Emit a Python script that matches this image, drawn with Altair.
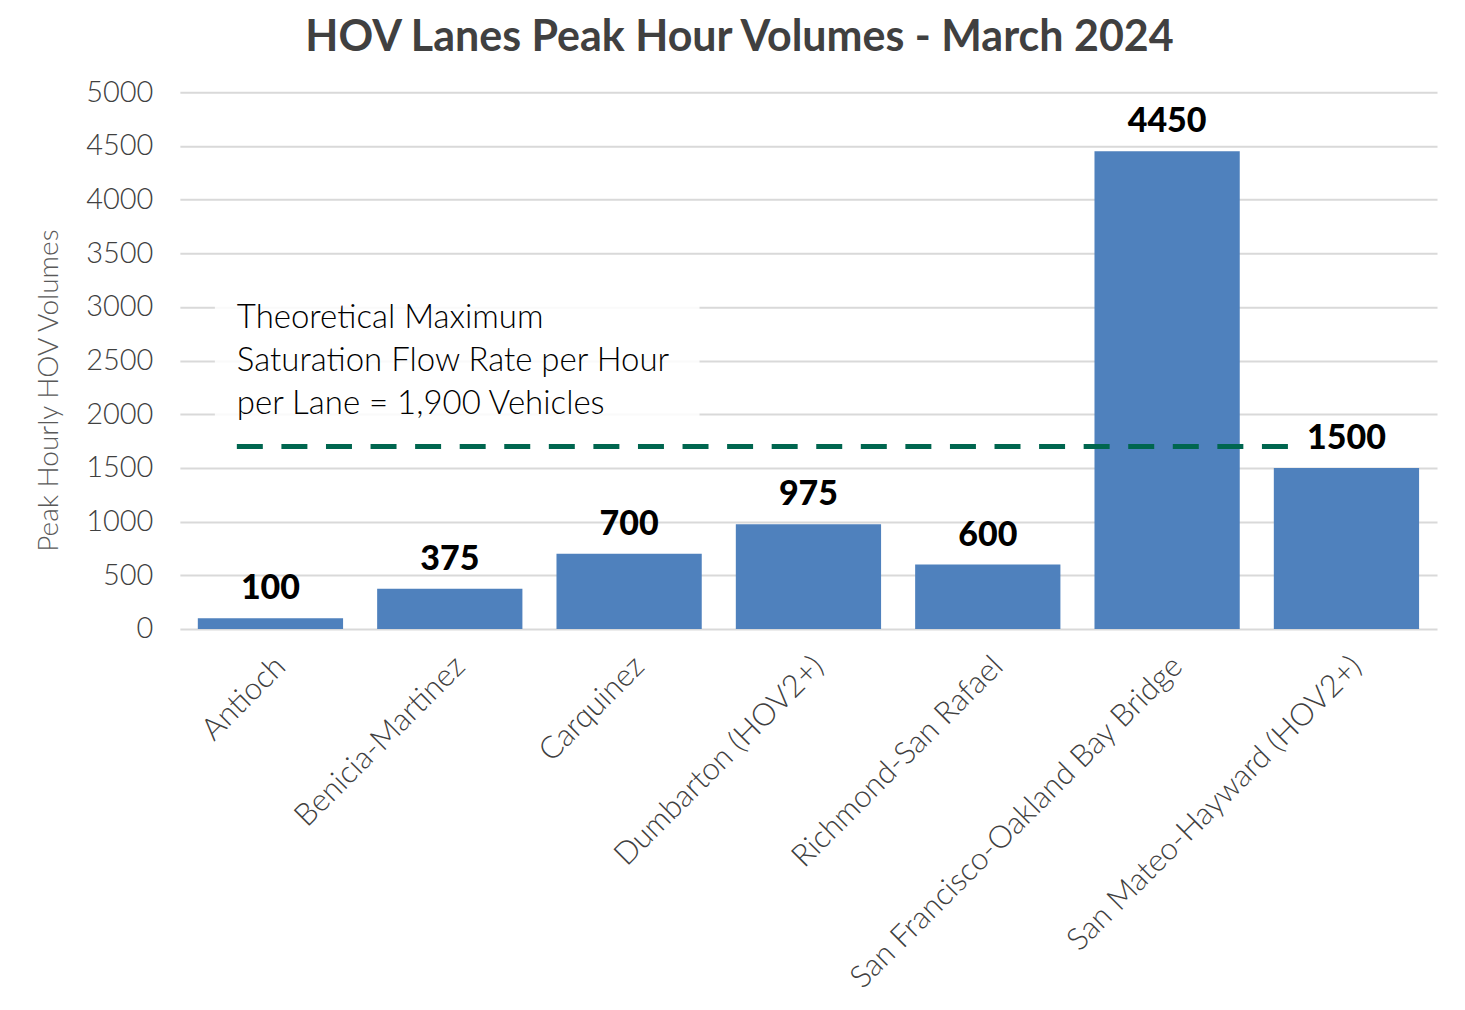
import altair as alt
import pandas as pd

categories = ["Antioch", "Benicia-Martinez", "Carquinez", "Dumbarton (HOV2+)",
              "Richmond-San Rafael", "San Francisco-Oakland Bay Bridge",
              "San Mateo-Hayward (HOV2+)"]
volumes = [100, 375, 700, 975, 600, 4450, 1500]
threshold_drawn = [1700]
annotation_lines = ["Theoretical Maximum", "Saturation Flow Rate per Hour",
                    "per Lane = 1,900 Vehicles"]

FONT = "Lato"
df = pd.DataFrame({"cat": categories, "v": volumes})

x = alt.X("cat:N", sort=categories, title=None,
          scale=alt.Scale(paddingInner=0.19, paddingOuter=0.1),
          axis=alt.Axis(labelAngle=-45, labelFontSize=31, labelColor="#404040",
                        labelFont=FONT, labelFontWeight=300, labelPadding=22,
                        domain=False, ticks=False, labelLimit=700))
y = alt.Y("v:Q", title="Peak Hourly HOV Volumes",
          scale=alt.Scale(domain=[0, 5000]),
          axis=alt.Axis(values=list(range(0, 5001, 500)), format="d",
                        labelFontSize=29, labelFontWeight=300,
                        labelColor="#404040", labelFont=FONT, labelPadding=27,
                        titleFontSize=28, titleFont=FONT, titleColor="#595959",
                        titleFontWeight=300, titlePadding=22, titleY=298,
                        domain=False, ticks=False, gridColor="#D9D9D9", gridWidth=2))

bars = alt.Chart(df).mark_bar(color="#4F81BD").encode(x=x, y=y)
labels = alt.Chart(df).mark_text(baseline="bottom", dy=-12, fontSize=34,
                                 fontWeight=900, font=FONT, color="black").encode(
    x=alt.X("cat:N", sort=categories), y="v:Q", text="v:Q")

box = alt.Chart(pd.DataFrame({"a": [0]})).mark_rect(color="white", opacity=0.85).encode(
    x=alt.value(35), x2=alt.value(520), y=alt.value(208), y2=alt.value(333))

note = alt.Chart(pd.DataFrame({"t": [annotation_lines]})).mark_text(
    align="left", baseline="middle", fontSize=33, font=FONT, fontWeight=300,
    color="black", lineHeight=43).encode(x=alt.value(57), y=alt.value(226), text="t")

rule = alt.Chart(pd.DataFrame({"y": threshold_drawn})).mark_rule(
    color="#00664F", strokeWidth=5, strokeDash=[26, 18.6]).encode(
    y="y:Q", x=alt.value(57), x2=alt.value(1110))

chart = alt.layer(bars, box, note, rule, labels).properties(
    width=1258, height=537,
    title=alt.TitleParams("HOV Lanes Peak Hour Volumes - March 2024", fontSize=43,
                          font=FONT, fontWeight="bold", color="#404040",
                          anchor="middle", dx=-69, offset=18),
    autosize=alt.AutoSizeParams(type="none"),
    padding={"left": 172, "top": 84, "right": 20, "bottom": 370},
).configure(background="white").configure_view(stroke=None, strokeWidth=0)

chart.save("out.html", embed_options={"renderer": "svg", "actions": False})
